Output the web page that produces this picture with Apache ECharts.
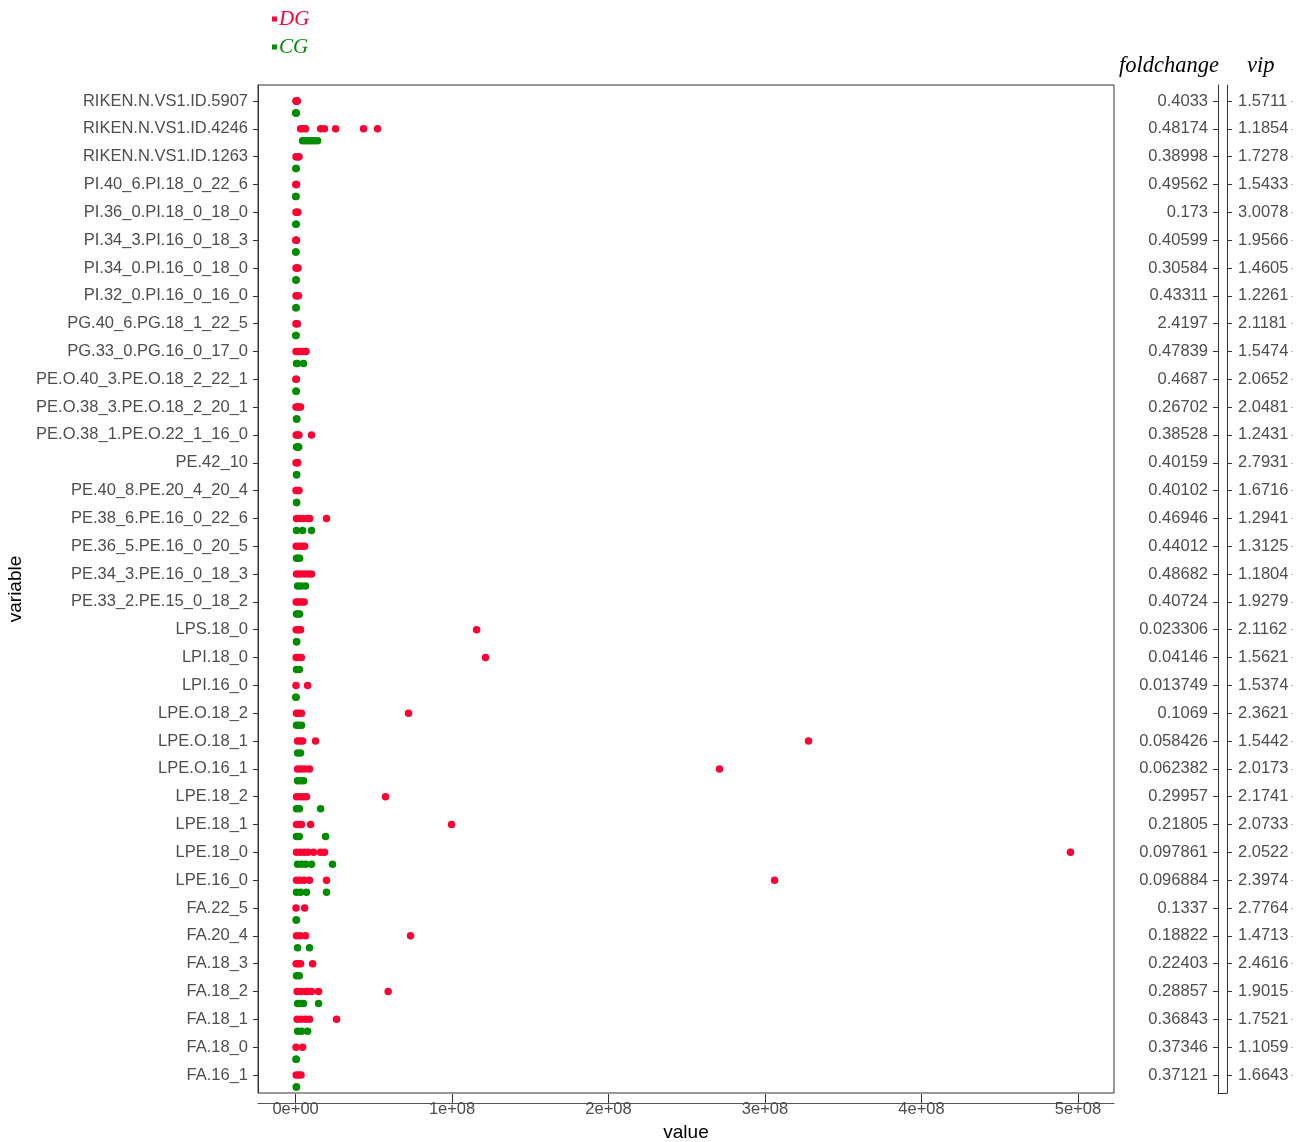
<!DOCTYPE html>
<html>
<head>
<meta charset="utf-8">
<script src="https://cdn.jsdelivr.net/npm/echarts@6/dist/echarts.min.js"></script>
<style>
  html, body { margin: 0; padding: 0; background: #fff; }
  #chart { width: 1308px; height: 1142px; }
</style>
</head>
<body>
<div id="chart"></div>
<script>
// categories, top to bottom
var variables = [
  'RIKEN.N.VS1.ID.5907', 'RIKEN.N.VS1.ID.4246', 'RIKEN.N.VS1.ID.1263',
  'PI.40_6.PI.18_0_22_6', 'PI.36_0.PI.18_0_18_0', 'PI.34_3.PI.16_0_18_3',
  'PI.34_0.PI.16_0_18_0', 'PI.32_0.PI.16_0_16_0', 'PG.40_6.PG.18_1_22_5',
  'PG.33_0.PG.16_0_17_0', 'PE.O.40_3.PE.O.18_2_22_1', 'PE.O.38_3.PE.O.18_2_20_1',
  'PE.O.38_1.PE.O.22_1_16_0', 'PE.42_10', 'PE.40_8.PE.20_4_20_4',
  'PE.38_6.PE.16_0_22_6', 'PE.36_5.PE.16_0_20_5', 'PE.34_3.PE.16_0_18_3',
  'PE.33_2.PE.15_0_18_2', 'LPS.18_0', 'LPI.18_0', 'LPI.16_0', 'LPE.O.18_2',
  'LPE.O.18_1', 'LPE.O.16_1', 'LPE.18_2', 'LPE.18_1', 'LPE.18_0', 'LPE.16_0',
  'FA.22_5', 'FA.20_4', 'FA.18_3', 'FA.18_2', 'FA.18_1', 'FA.18_0', 'FA.16_1'
];

var foldchange = [
  '0.4033', '0.48174', '0.38998', '0.49562', '0.173', '0.40599', '0.30584',
  '0.43311', '2.4197', '0.47839', '0.4687', '0.26702', '0.38528', '0.40159',
  '0.40102', '0.46946', '0.44012', '0.48682', '0.40724', '0.023306', '0.04146',
  '0.013749', '0.1069', '0.058426', '0.062382', '0.29957', '0.21805',
  '0.097861', '0.096884', '0.1337', '0.18822', '0.22403', '0.28857',
  '0.36843', '0.37346', '0.37121'
];

var vip = [
  '1.5711', '1.1854', '1.7278', '1.5433', '3.0078', '1.9566', '1.4605',
  '1.2261', '2.1181', '1.5474', '2.0652', '2.0481', '1.2431', '2.7931',
  '1.6716', '1.2941', '1.3125', '1.1804', '1.9279', '2.1162', '1.5621',
  '1.5374', '2.3621', '1.5442', '2.0173', '2.1741', '2.0733', '2.0522',
  '2.3974', '2.7764', '1.4713', '2.4616', '1.9015', '1.7521', '1.1059', '1.6643'
];

// values in millions (1e6), one list per variable
var dgValues = [
  [0.3, 0.5, 0.7, 0.9, 1.1],
  [3.2, 4.5, 6.4, 16, 18.5, 25.6, 43.5, 52.4],
  [0.3, 1.0, 1.6, 2.2],
  [0.2, 0.4, 0.6],
  [0.3, 0.8, 1.5],
  [0.2, 0.4, 0.5],
  [0.3, 0.9, 1.6],
  [0.3, 1.0, 1.9],
  [0.3, 0.6, 1.2],
  [0.3, 1.5, 3.0, 4.5, 6.7],
  [0.2, 0.5],
  [0.3, 1.3, 2.5, 3.2],
  [0.4, 1.2, 2.2, 10.2],
  [0.3, 1.0, 1.4],
  [0.3, 1.2, 2.2],
  [0.6, 3.0, 5.0, 7.5, 9.0, 19.8],
  [0.4, 2.0, 4.0, 5.8],
  [0.6, 3.0, 5.5, 8.0, 10.2],
  [0.4, 2.0, 3.5, 5.5],
  [0.4, 1.8, 3.2, 115.7],
  [0.4, 2.0, 3.7, 121.4],
  [0.3, 7.7],
  [0.6, 2.0, 3.8, 72.2],
  [1.3, 3.0, 4.5, 12.8, 327.8],
  [1.3, 3.5, 6.0, 8.9, 270.9],
  [0.6, 3.0, 5.0, 7.0, 57.5],
  [0.6, 2.4, 3.8, 9.6, 99.7],
  [0.6, 3.0, 5.5, 8.0, 11.5, 16, 18.5, 495.2],
  [0.6, 3.0, 5.5, 8.9, 19.8, 306.1],
  [0.3, 5.8],
  [0.6, 3.0, 6.4, 73.5],
  [0.4, 1.9, 3.2, 10.9],
  [1.0, 3.5, 6.4, 7.7, 10.2, 14.7, 59.2],
  [1.0, 3.5, 6.4, 8.9, 26.2],
  [0.3, 4.5],
  [0.4, 2.0, 3.5]
];

var cgValues = [
  [0.1, 0.3, 0.5],
  [4.5, 6.4, 8.3, 10.2, 12.1, 14.1],
  [0.2, 0.4],
  [0.1, 0.3],
  [0.2, 0.4],
  [0.1, 0.3],
  [0.2, 0.4],
  [0.2, 0.4],
  [0.2, 0.3],
  [0.6, 1.2, 5.1],
  [0.3, 0.4],
  [0.6, 0.8],
  [0.6, 1.5, 2.0],
  [0.6, 0.7],
  [0.6, 0.7],
  [0.6, 4.5, 10.2],
  [0.6, 1.5, 2.6],
  [1.3, 3.5, 6.4],
  [0.6, 1.8, 2.6],
  [0.6, 0.7],
  [0.6, 2.4],
  [0.2, 0.3],
  [0.6, 2.0, 3.8],
  [1.3, 3.2],
  [1.3, 3.2, 5.1],
  [0.6, 2.5, 16],
  [0.6, 2.4, 19.2],
  [1.3, 4.0, 6.5, 10.2, 23.6],
  [0.6, 3.2, 7.0, 19.8],
  [0.4, 0.5],
  [1.3, 8.9],
  [0.6, 2.4],
  [1.3, 3.2, 5.1, 14.7],
  [1.3, 3.8, 7.7],
  [0.3, 0.4],
  [0.5, 0.6]
];

var xTicks = [0, 100, 200, 300, 400, 500];

var RED = '#ff0033';
var GREEN = '#008c00';
var cgShift = 0.43;

var rowIdx = variables.map(function (v, i) { return i; });
var dgData = [];
var cgData = [];
dgValues.forEach(function (vals, i) {
  vals.forEach(function (v) { dgData.push([v, i]); });
});
cgValues.forEach(function (vals, i) {
  vals.forEach(function (v) { cgData.push([v, i + cgShift]); });
});

var yMin = -0.575, yMax = 35.647;
var labelFont = { fontFamily: 'Liberation Sans', fontSize: 16.5, color: '#4d4d4d' };

function rowAxis(gridIndex, position, labels, margin, extra) {
  var ax = {
    type: 'value', gridIndex: gridIndex, position: position,
    inverse: true, min: yMin, max: yMax,
    splitLine: { show: false },
    axisLine: { show: true, onZero: false, lineStyle: { color: '#333', width: 1 } },
    axisTick: { show: true, length: 5, customValues: rowIdx, lineStyle: { color: '#333' } },
    axisLabel: Object.assign({
      customValues: rowIdx, margin: margin,
      formatter: function (v) { return labels[Math.round(v)]; }
    }, labelFont)
  };
  return Object.assign(ax, extra || {});
}

var chart = echarts.init(document.getElementById('chart'));
var option = {
  animation: false,
  backgroundColor: '#fff',
  legend: {
    orient: 'vertical', left: 267, top: 3, itemGap: 6,
    icon: 'rect', itemWidth: 5, itemHeight: 5,
    textStyle: { fontFamily: 'Liberation Serif', fontStyle: 'italic', fontSize: 21, lineHeight: 22, padding: [0, 0, 0, -3] },
    data: [
      { name: 'DG', textStyle: { color: RED } },
      { name: 'CG', textStyle: { color: GREEN } }
    ]
  },
  graphic: [
    { type: 'text', left: 1119, top: 55, style: { text: 'foldchange', font: 'italic 22.5px "Liberation Serif"', fill: '#000' } },
    { type: 'text', left: 1247, top: 55, style: { text: 'vip', font: 'italic 22.5px "Liberation Serif"', fill: '#000' } }
  ],
  grid: [
    { left: 258, right: 194, top: 85, bottom: 49, outerBoundsMode: 'none', show: true, borderColor: '#333', borderWidth: 1, backgroundColor: '#fff' },
    { left: 1218, width: 9, top: 85, bottom: 49, outerBoundsMode: 'none' },
    { left: 1293, width: 2, top: 85, bottom: 49, outerBoundsMode: 'none' }
  ],
  xAxis: [
    {
      type: 'value', gridIndex: 0, min: -24, max: 523, offset: 10,
      name: 'value', nameLocation: 'middle', nameGap: 18,
      nameTextStyle: { fontFamily: 'Liberation Sans', fontSize: 19, color: '#000' },
      splitLine: { show: false },
      axisLine: { show: true, onZero: false, lineStyle: { color: '#555' } },
      axisTick: { show: true, inside: true, length: 9, customValues: xTicks, lineStyle: { color: '#333' } },
      axisLabel: Object.assign({
        customValues: xTicks, margin: -2,
        formatter: function (v) { return v === 0 ? '0e+00' : (v / 100) + 'e+08'; }
      }, labelFont)
    },
    {
      type: 'value', gridIndex: 1, min: 0, max: 1,
      splitLine: { show: false },
      axisLine: { show: true, onZero: false, lineStyle: { color: '#333' } },
      axisTick: { show: false }, axisLabel: { show: false }
    },
    {
      type: 'value', gridIndex: 2, min: 0, max: 1, show: false
    }
  ],
  yAxis: [
    rowAxis(0, 'left', variables, 10, {
      name: 'variable', nameLocation: 'middle', nameGap: 230,
      nameTextStyle: { fontFamily: 'Liberation Sans', fontSize: 19, color: '#000' }
    }),
    rowAxis(1, 'left', foldchange, 10),
    rowAxis(1, 'right', vip, 11),
    {
      type: 'value', gridIndex: 2, position: 'left', inverse: true, min: yMin, max: yMax,
      splitLine: { show: false }, axisLine: { show: false, onZero: false }, axisLabel: { show: false },
      axisTick: { show: true, length: 2, customValues: rowIdx, lineStyle: { color: '#bbb' } }
    }
  ],
  series: [
    {
      name: 'CG', type: 'scatter', xAxisIndex: 0, yAxisIndex: 0,
      symbolSize: 7.5, itemStyle: { color: GREEN, opacity: 1 },
      data: cgData
    },
    {
      name: 'DG', type: 'scatter', xAxisIndex: 0, yAxisIndex: 0,
      symbolSize: 7.5, itemStyle: { color: RED, opacity: 1 },
      data: dgData
    }
  ]
};
chart.setOption(option);
window.addEventListener('resize', function () {
  chart.resize();
});
</script>
</body>
</html>
